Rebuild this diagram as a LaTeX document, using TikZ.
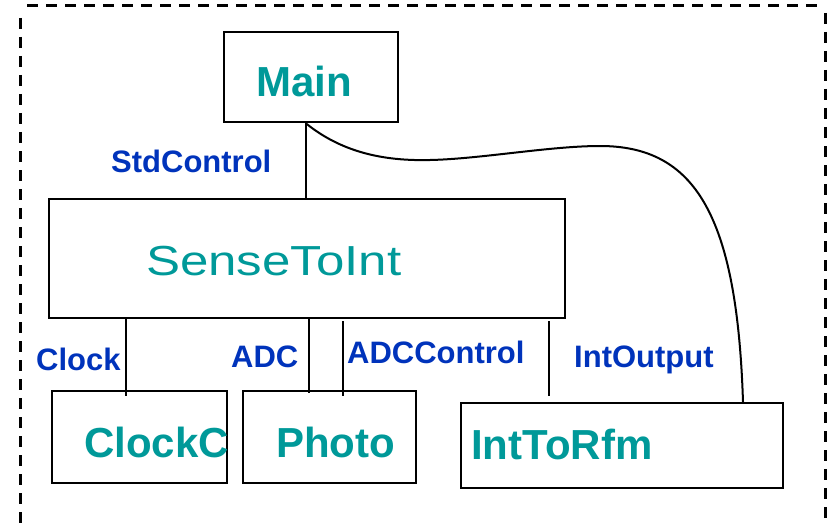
\documentclass[tikz,border=0pt]{standalone}
\usepackage{fontspec}
\setmainfont{Liberation Sans}
\definecolor{compteal}{RGB}{0,153,153}
\definecolor{ifblue}{RGB}{0,51,187}
\tikzset{
  comp/.style={draw=black, line width=2.4pt, inner sep=0pt, anchor=north west},
  compname/.style={anchor=base west, text=compteal, inner sep=0pt,
    font=\fontsize{42}{42}\selectfont\bfseries},
  wire/.style={draw=black, line width=2pt},
  ifname/.style={anchor=base west, text=ifblue, inner sep=0pt,
    font=\fontsize{31}{31}\selectfont\bfseries},
  frame/.style={draw=black, line width=3pt, dash pattern=on 11pt off 8pt}
}
\begin{document}
\begin{tikzpicture}[x=1pt, y=-1pt]
\useasboundingbox (0,0) rectangle (832,524);

% enclosing configuration
\draw[frame] (20,18) -- (20,540);
\draw[frame] (27,6) -- (823,6);
\draw[frame] (825,13) -- (825,540);

% components
\node[comp, minimum width=174pt, minimum height=90pt,
  label={[compname, xshift=33pt, yshift=27pt]south west:Main}] (Main) at (223,31) {};
\node[comp, minimum width=516pt, minimum height=119pt,
  label={[compname, font=\fontsize{42}{42}\selectfont, xshift=98pt, yshift=44pt]south west:\scalebox{1.215}[1]{SenseToInt}}] (Sense) at (48,198) {};
\node[comp, minimum width=175pt, minimum height=92pt,
  label={[compname, xshift=33pt, yshift=27pt]south west:ClockC}] (ClockC) at (51,390) {};
\node[comp, minimum width=173pt, minimum height=92pt,
  label={[compname, xshift=34pt, yshift=27pt]south west:Photo}] (Photo) at (242,390) {};
\node[comp, minimum width=322pt, minimum height=85pt,
  label={[compname, xshift=11pt, yshift=30pt]south west:IntToRfm}] (Rfm) at (460,402) {};

% wiring positions
\coordinate (xstd) at (306,0);
\coordinate (xclk) at (126,0);
\coordinate (xadc) at (309,0);
\coordinate (xadcc) at (343,0);
\coordinate (xout) at (549,0);
\coordinate (xrfm) at (743,0);

\draw[wire] (Main.south -| xstd) -- (Sense.north -| xstd);
\draw[wire] (Sense.south -| xclk) -- ([yshift=-6pt]ClockC.north -| xclk);
\draw[wire] (Sense.south -| xadc) -- ([yshift=-3pt]Photo.north -| xadc);
\draw[wire] ([yshift=-2pt]Sense.south -| xadcc) -- ([yshift=-6pt]Photo.north -| xadcc);
\draw[wire] ([yshift=-2pt]Sense.south -| xout) -- ([yshift=6pt]Rfm.north -| xout);
\draw[wire] (Main.south -| xstd) .. controls (345,155) and (390,161) .. (430,160)
  .. controls (480,159) and (550,146) .. (600,146)
  .. controls (695,146) and (737,215) .. (Rfm.north -| xrfm);

% interface names
\node[ifname] (lStd) at (111,172) {StdControl};
\node[ifname] (lClk) at (36,370) {Clock};
\node[ifname] (lAdc) at (231,367) {ADC};
\node[ifname] (lAdcc) at (347,363) {ADCControl};
\node[ifname] (lOut) at (574,367) {IntOutput};
\end{tikzpicture}
\end{document}
